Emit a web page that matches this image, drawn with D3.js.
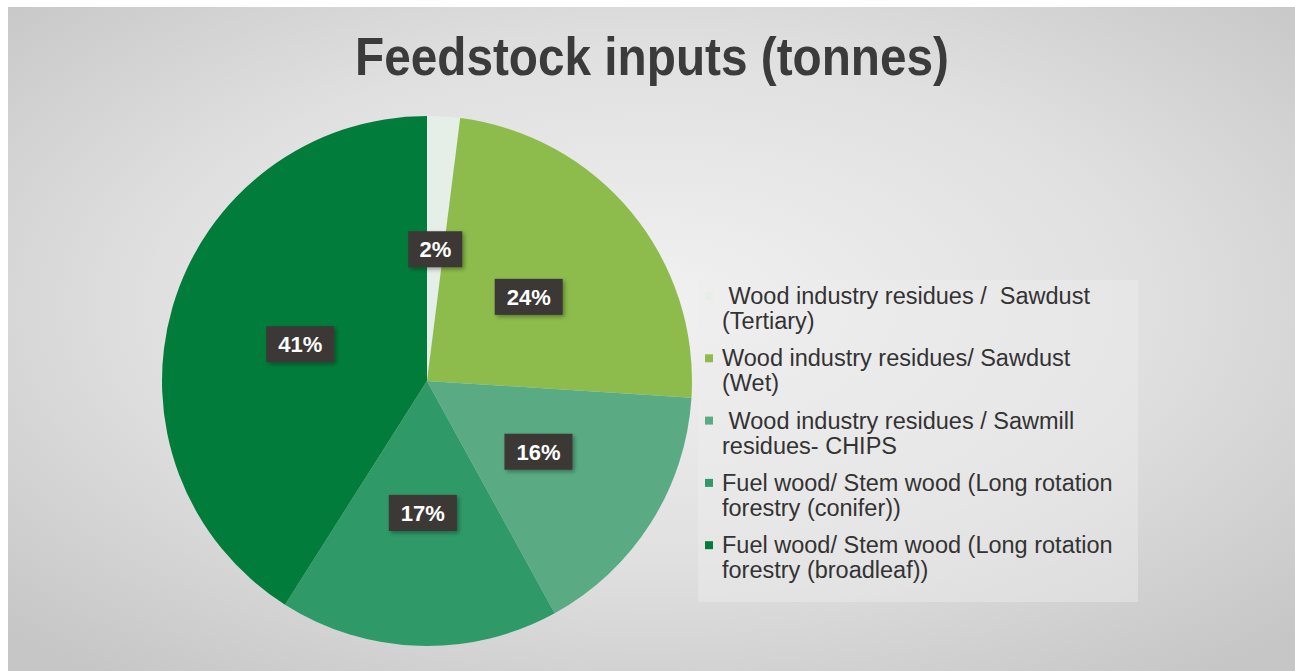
<!DOCTYPE html>
<html>
<head>
<meta charset="utf-8">
<script src="https://cdn.jsdelivr.net/npm/d3@7"></script>
<style>
  html, body { margin: 0; padding: 0; background: #fff; }
  svg { display: block; }
</style>
</head>
<body>
<div id="chart"></div>
<script>
// chart data
var categories = [
  " Wood industry residues /  Sawdust (Tertiary)",
  "Wood industry residues/ Sawdust (Wet)",
  " Wood industry residues / Sawmill residues- CHIPS",
  "Fuel wood/ Stem wood (Long rotation forestry (conifer))",
  "Fuel wood/ Stem wood (Long rotation forestry (broadleaf))"
];
var legendLines = [
  [" Wood industry residues /  Sawdust", "(Tertiary)"],
  ["Wood industry residues/ Sawdust", "(Wet)"],
  [" Wood industry residues / Sawmill", "residues- CHIPS"],
  ["Fuel wood/ Stem wood (Long rotation", "forestry (conifer))"],
  ["Fuel wood/ Stem wood (Long rotation", "forestry (broadleaf))"]
];
var shares = [2, 24, 16, 17, 41];
var colors = ["#e6eee8", "#8dbc4c", "#5aab84", "#2f9968", "#027c3b"];

var W = 1295, H = 671;
var cx = 427, cy = 381, R = 265;

var svg = d3.select("#chart").append("svg")
  .attr("width", W).attr("height", H)
  .attr("xmlns", "http://www.w3.org/2000/svg");

var defs = svg.append("defs");
var bg = defs.append("radialGradient").attr("id", "bg")
  .attr("cx", "50%").attr("cy", "45%").attr("r", "70%");
bg.append("stop").attr("offset", "0%").attr("stop-color", "#f1f1f1");
bg.append("stop").attr("offset", "55%").attr("stop-color", "#e0e0e0");
bg.append("stop").attr("offset", "100%").attr("stop-color", "#c6c6c6");

var sh = defs.append("filter").attr("id", "shadow")
  .attr("x", "-20%").attr("y", "-20%").attr("width", "150%").attr("height", "160%");
sh.append("feDropShadow").attr("dx", 2).attr("dy", 2).attr("stdDeviation", 2)
  .attr("flood-color", "#000").attr("flood-opacity", 0.35);

// slide background
svg.append("rect")
  .attr("x", 8).attr("y", 7).attr("width", W - 8).attr("height", H - 7)
  .attr("fill", "url(#bg)");

// title
svg.append("text")
  .attr("x", 652).attr("y", 75)
  .attr("text-anchor", "middle")
  .attr("font-family", "'Liberation Sans Narrow', 'Arial Narrow', 'Liberation Sans', Arial, sans-serif")
  .attr("font-weight", "bold")
  .attr("font-size", 53)
  .attr("fill", "#3b3b3b")
  .attr("textLength", 594)
  .attr("lengthAdjust", "spacingAndGlyphs")
  .text("Feedstock inputs (tonnes)");

// legend panel
svg.append("rect")
  .attr("x", 698).attr("y", 280).attr("width", 440).attr("height", 322)
  .attr("fill", "#eeeeee").attr("opacity", 0.45);

// pie
var pie = d3.pie().sort(null).value(function(d) { return d; });
var arcs = pie(shares);
var arc = d3.arc().innerRadius(0).outerRadius(R);
var labelArc = d3.arc().innerRadius(132).outerRadius(132);

var g = svg.append("g").attr("transform", "translate(" + cx + "," + cy + ")");

g.selectAll("path.slice")
  .data(arcs)
  .enter().append("path")
  .attr("class", "slice")
  .attr("d", arc)
  .attr("fill", function(d, i) { return colors[i]; });

// data labels
var labels = g.selectAll("g.lbl")
  .data(arcs)
  .enter().append("g")
  .attr("class", "lbl")
  .attr("transform", function(d) {
    var c = labelArc.centroid(d);
    return "translate(" + c[0] + "," + c[1] + ")";
  });

labels.append("rect")
  .attr("x", function(d) { return d.data < 10 ? -27 : -34; })
  .attr("y", -18)
  .attr("width", function(d) { return d.data < 10 ? 54 : 68; })
  .attr("height", 36)
  .attr("fill", "#3a3735")
  .attr("filter", "url(#shadow)");

labels.append("text")
  .attr("text-anchor", "middle")
  .attr("dy", "0.36em")
  .attr("font-family", "'Liberation Sans', Arial, sans-serif")
  .attr("font-weight", "bold")
  .attr("font-size", 22)
  .attr("fill", "#ffffff")
  .text(function(d) { return d.data + "%"; });

// legend
var legend = svg.append("g").attr("transform", "translate(705,0)");
var items = legend.selectAll("g.item")
  .data(categories)
  .enter().append("g")
  .attr("class", "item")
  .attr("transform", function(d, i) { return "translate(0," + (297 + i * 62.3) + ")"; });

items.append("rect")
  .attr("x", 0).attr("y", -5)
  .attr("width", 8).attr("height", 8)
  .attr("fill", function(d, i) { return colors[i]; });

items.each(function(d, i) {
  var t = d3.select(this).append("text")
    .attr("font-family", "'Liberation Sans', Arial, sans-serif")
    .attr("font-size", 23.5)
    .attr("fill", "#333333")
    .attr("xml:space", "preserve")
    .style("white-space", "pre");
  legendLines[i].forEach(function(line, k) {
    t.append("tspan")
      .attr("x", 17)
      .attr("y", 7 + k * 25)
      .text(line);
  });
});
</script>
</body>
</html>
